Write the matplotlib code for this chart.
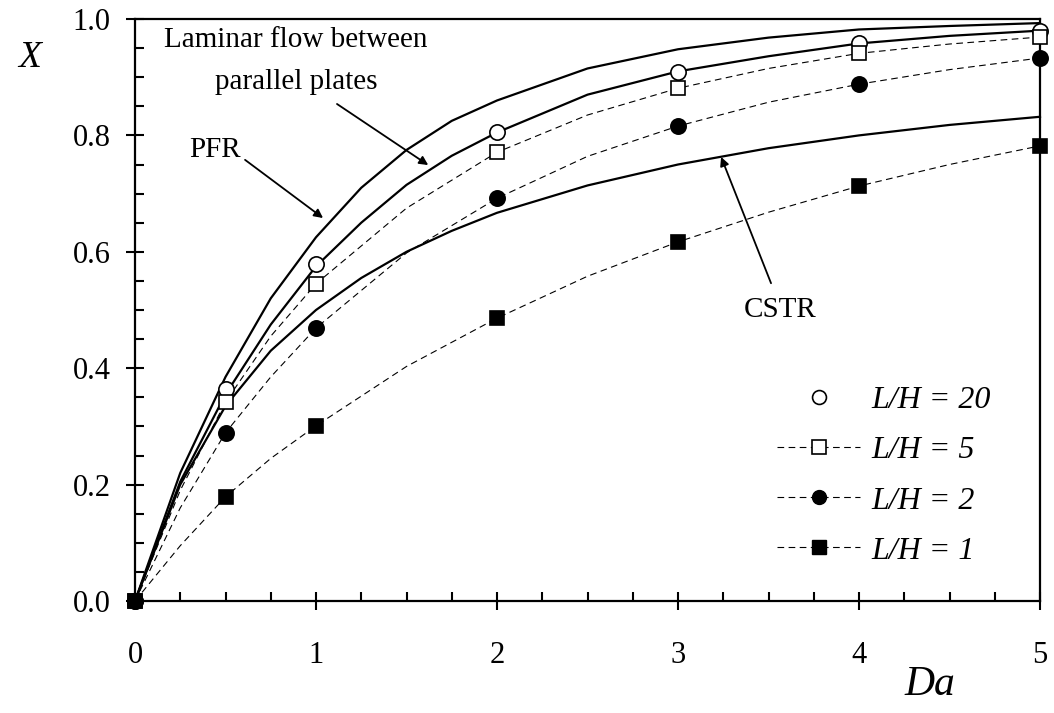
import matplotlib
matplotlib.use("Agg")
import matplotlib.pyplot as plt
from matplotlib.ticker import MultipleLocator, FormatStrFormatter

plt.rcParams['font.family'] = ['Liberation Serif', 'DejaVu Serif']

## Model curves
da_curve = [0, 0.25, 0.5, 0.75, 1.0, 1.25, 1.5, 1.75, 2.0, 2.5, 3.0, 3.5, 4.0, 4.5, 5.0]
x_pfr = [0, 0.22, 0.385, 0.52, 0.625, 0.71, 0.775, 0.825, 0.86, 0.915, 0.948, 0.968, 0.982, 0.988, 0.993]
x_laminar = [0, 0.205, 0.355, 0.475, 0.575, 0.65, 0.715, 0.765, 0.805, 0.87, 0.91, 0.936, 0.958, 0.971, 0.98]
x_cstr = [0, 0.2, 0.335, 0.43, 0.5, 0.555, 0.6, 0.636, 0.667, 0.714, 0.75, 0.778, 0.80, 0.818, 0.832]

## Simulation points
da_pts = [0, 0.5, 1, 2, 3, 4, 5]
x_lh20 = [0, 0.364, 0.579, 0.806, 0.909, 0.959, 0.979]
x_lh5 = [0, 0.342, 0.545, 0.771, 0.881, 0.941, 0.969]
x_lh2 = [0, 0.289, 0.469, 0.692, 0.816, 0.888, 0.933]
x_lh1 = [0, 0.179, 0.301, 0.486, 0.617, 0.713, 0.782]

## Dashed fit lines through the points
da_fit = [0, 0.25, 0.5, 0.75, 1, 1.5, 2, 2.5, 3, 3.5, 4, 4.5, 5]
fit_lh5 = [0, 0.19, 0.342, 0.455, 0.545, 0.675, 0.771, 0.835, 0.881, 0.915, 0.941, 0.957, 0.969]
fit_lh2 = [0, 0.16, 0.289, 0.385, 0.469, 0.598, 0.692, 0.764, 0.816, 0.857, 0.888, 0.913, 0.933]
fit_lh1 = [0, 0.095, 0.179, 0.245, 0.301, 0.403, 0.486, 0.558, 0.617, 0.668, 0.713, 0.75, 0.782]

labels = ['L/H = 20', 'L/H = 5', 'L/H = 2', 'L/H = 1']

fig = plt.figure(figsize=(10.54, 7.13), dpi=100)
ax = fig.add_axes([135/1054, 112/713, 905/1054, 582/713])

for yy in (x_pfr, x_laminar, x_cstr):
    ax.plot(da_curve, yy, color='black', lw=1.6, clip_on=False)

dash = dict(color='black', lw=0.8, linestyle=(0, (6, 4)))
ax.plot(da_fit, fit_lh5, **dash)
ax.plot(da_fit, fit_lh2, **dash)
ax.plot(da_fit, fit_lh1, **dash)

ax.plot(da_pts, x_lh20, 'o', mfc='white', ms=11, mec='black', mew=1.2, clip_on=False, zorder=5)
ax.plot(da_pts, x_lh5, 's', mfc='white', ms=10.5, mec='black', mew=1.2, clip_on=False, zorder=5)
ax.plot(da_pts, x_lh2, 'o', mfc='black', ms=11, mec='black', mew=1.2, clip_on=False, zorder=5)
ax.plot(da_pts, x_lh1, 's', mfc='black', ms=10.5, mec='black', mew=1.2, clip_on=False, zorder=6)

# legend handles
h20, = ax.plot([], [], 'o', mfc='white', mec='black', ms=10, mew=1.2)
h5, = ax.plot([], [], 's', mfc='white', mec='black', ms=9.5, mew=1.2, **dash)
h2, = ax.plot([], [], 'o', mfc='black', mec='black', ms=10, **dash)
h1, = ax.plot([], [], 's', mfc='black', mec='black', ms=9.5, **dash)
ax.legend([h20, h5, h2, h1], labels,
          loc='upper left', bbox_to_anchor=(0.678, 0.419), frameon=False,
          prop=dict(style='italic', size=23), handlelength=2.6,
          handletextpad=0.35, labelspacing=0.65)

ax.set_xlim(0, 5)
ax.set_ylim(0, 1.0)
ax.xaxis.set_major_locator(MultipleLocator(1))
ax.xaxis.set_minor_locator(MultipleLocator(0.25))
ax.yaxis.set_major_locator(MultipleLocator(0.2))
ax.yaxis.set_minor_locator(MultipleLocator(0.05))
ax.yaxis.set_major_formatter(FormatStrFormatter('%.1f'))
ax.tick_params(which='major', direction='inout', length=13, width=1.5, labelsize=22)
ax.tick_params(which='minor', direction='in', length=6.5, width=1.5)
ax.tick_params(axis='x', which='major', pad=22)
ax.tick_params(axis='y', which='major', pad=11)
for s in ax.spines.values():
    s.set_linewidth(1.6)

arrow = dict(arrowstyle='-|>', color='black', lw=1.3, mutation_scale=13, shrinkA=0, shrinkB=0)
ax.text(0.89, 0.928, 'Laminar flow between\nparallel plates', ha='center', va='center',
        fontsize=21, linespacing=1.8)
ax.annotate('', xy=(1.62, 0.749), xytext=(1.116, 0.854), arrowprops=arrow)
ax.text(0.442, 0.775, 'PFR', ha='center', va='center', fontsize=21)
ax.annotate('', xy=(1.039, 0.658), xytext=(0.608, 0.758), arrowprops=arrow)
ax.text(3.564, 0.50, 'CSTR', ha='center', va='center', fontsize=21)
ax.annotate('', xy=(3.238, 0.763), xytext=(3.514, 0.546), arrowprops=arrow)

fig.text(30/1054, 1 - 58/713, 'X', fontsize=27, style='italic', ha='center', va='center')
fig.text(930/1054, 1 - 685/713, 'Da', fontsize=30, style='italic', ha='center', va='center')

fig.savefig('out.png', dpi=100)
